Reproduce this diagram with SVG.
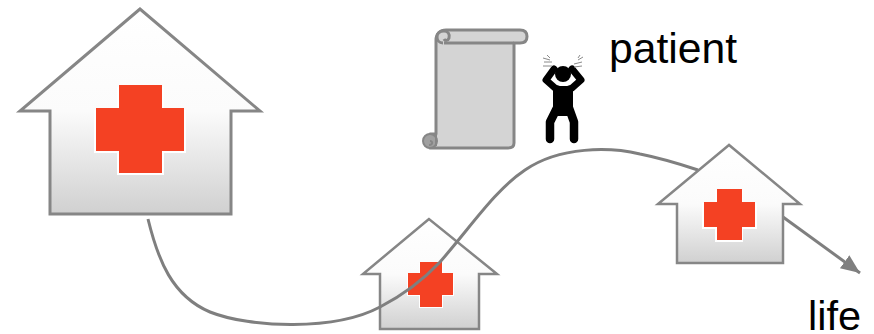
<svg xmlns="http://www.w3.org/2000/svg" width="874" height="334" viewBox="0 0 874 334">
<style>
.house{stroke:#868686;stroke-linejoin:miter}
.cross{fill:#f44123;stroke:none}
.halo{fill:#fff;stroke:none}
.link{fill:none;stroke:#7f7f7f;stroke-width:3}
.scroll{fill:#d4d4d4;stroke:#868686;stroke-width:3;stroke-linejoin:round}
.limb{fill:none;stroke:#000;stroke-linecap:round;stroke-linejoin:round}
.spark{fill:none;stroke:#8a8a8a;stroke-width:1}
text{font-family:"Liberation Sans",Arial,sans-serif;fill:#000}
</style>
<defs>
<linearGradient id="g" x1="0" y1="0" x2="0" y2="1">
<stop offset="0" stop-color="#fff"/><stop offset="0.5" stop-color="#fbfbfb"/><stop offset="1" stop-color="#d0d0d0"/>
</linearGradient>
<marker id="arr" markerUnits="userSpaceOnUse" markerWidth="24" markerHeight="20" refX="19" refY="8" orient="auto">
<path d="M0 0L19 8L0 16Z" fill="#7f7f7f"/>
</marker>
</defs>
<g id="house-middle">
<path class="house" fill="url(#g)" stroke-width="2.5" d="M429 219L363 274H380V329H479V274H497Z"/>
<path class="halo" d="M419 263H443V274H454V296H443V308H419V296H407V274H419Z"/>
<path class="cross" d="M420 262H442V273H453V295H442V307H420V295H408V273H420Z"/>
</g>
<g id="connectors">
<path class="link" d="M148 219C158 260 172 296 210 312C250 328 335 331 380 307C405 294 425 278 440 262C470 228 495 190 525 170C560 146 610 147 640 154C660 158 680 164 698 170"/>
<path class="link" d="M783 217L860 273" marker-end="url(#arr)"/>
</g>
<g id="house-large">
<path class="house" fill="url(#g)" stroke-width="3" d="M140 9L20 111H50V214H231V111H260Z"/>
<path class="halo" d="M117 87H164V110H186V153H164V175H117V153H94V110H117Z"/>
<path class="cross" d="M119 85H162V108H184V151H162V173H119V151H96V108H119Z"/>
</g>
<g id="house-right">
<path class="house" fill="url(#g)" stroke-width="2.5" d="M729 145L658 204H677V263H783V204H800Z"/>
<path class="halo" d="M715 190H743V203H757V229H743V242H715V229H702V203H715Z"/>
<path class="cross" d="M717 189H742V202H755V227H742V240H717V227H704V202H717Z"/>
</g>
<g id="scroll">
<path class="scroll" d="M436 40C436 34 440 30 446 30H520C525 30 527 33 527 36.500C527 40 525 43 520 43H514V143C514 146 512 148 508 148H430V134H436Z"/>
<path class="scroll" d="M443 43C439 43 437 40 437 37C437 33 440 31 444 31C448 31 450 34 449 38C448 41 445 41 444 39"/>
<path d="M444 43H514" fill="none" stroke="#868686" stroke-width="3"/>
<circle cx="430" cy="141" r="7" fill="#a0a0a0" stroke="#868686" stroke-width="2"/>
<path d="M430 134H436V146M430 141C433 141 433 145 429 145" fill="none" stroke="#868686" stroke-width="2"/>
</g>
<g id="patient">
<circle cx="563" cy="74" r="8"/>
<path class="limb" stroke-width="7" d="M554 69L546 80L555 88L561 90M572 69L581 80L572 88L566 90"/>
<path d="M553 86H573V116H553Z"/>
<path class="limb" stroke-width="8.500" d="M557 108L550 122V139M569 108L574 122V139"/>
<path class="spark" d="M543 58L550 60M544 62L552 62M543 66L552 66M547 55L550 58M578 60L583 57M574 64L582 62M574 67L582 66M580 55L578 58"/>
</g>
<text id="label-patient" x="609" y="63" font-size="42.700">patient</text>
<text id="label-life" x="808" y="330" font-size="41.500">life</text>
</svg>
